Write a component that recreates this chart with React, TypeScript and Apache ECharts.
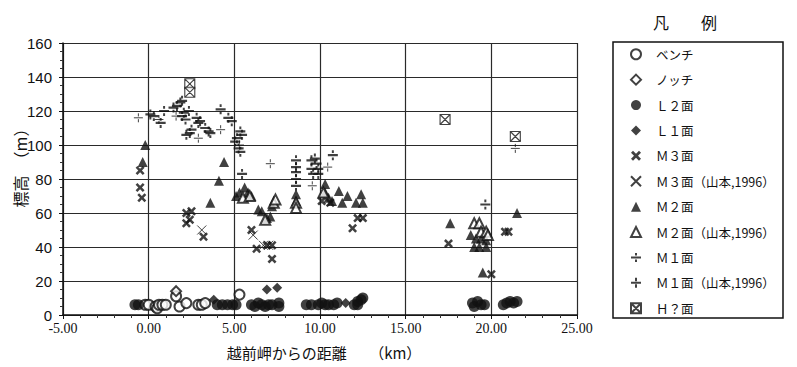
import React, { useEffect, useRef } from "react";
import * as echarts from "echarts";

// ---- data (distance km, elevation m) ----
const benchPts: number[][] = [
  [-0.2, 6], [0.0, 6], [0.4, 5], [0.5, 4], [0.6, 6], [0.8, 6], [1.0, 6],
  [1.6, 11], [1.8, 5], [2.2, 7], [2.9, 6], [3.1, 6], [3.3, 7], [5.3, 12],
];
const notchPts: number[][] = [[1.6, 14]];
const l2Pts: number[][] = [
  [-0.8, 6], [-0.6, 6], [4.0, 6], [4.3, 6], [4.6, 6], [4.9, 6], [5.1, 6],
  [6.0, 6], [6.2, 5], [6.4, 7], [6.6, 6], [6.8, 5], [7.0, 6], [7.2, 6], [7.6, 7], [7.6, 5],
  [9.2, 6], [9.5, 6], [9.9, 6], [10.1, 7], [10.3, 6], [10.5, 6], [10.8, 6], [11.0, 7],
  [12.0, 6], [12.2, 8], [12.4, 9], [12.5, 10], [12.2, 6],
  [18.9, 7], [19.0, 5], [19.2, 8], [19.4, 6], [19.6, 6],
  [20.7, 6], [20.9, 7], [21.1, 8], [21.3, 7], [21.5, 8],
];
const l1Pts: number[][] = [[3.8, 9], [6.9, 15], [7.5, 16], [11.5, 7]];
const m3Pts: number[][] = [
  [-0.5, 85], [-0.5, 75], [-0.4, 69], [2.2, 60], [2.5, 61], [2.2, 54], [2.4, 56], [3.2, 46],
  [6.0, 50], [6.3, 39], [6.9, 41], [7.2, 41], [7.2, 33], [10.1, 67], [10.6, 66],
  [11.9, 51], [12.2, 57], [12.5, 57], [17.5, 42], [20.0, 24], [20.8, 49], [21.0, 49],
];
const m3YamaPts: number[][] = [[3.1, 50], [6.1, 47], [6.7, 41], [7.0, 41]];
const m2Pts: number[][] = [
  [-0.2, 100], [-0.35, 90], [3.6, 66], [4.1, 79], [4.4, 90], [5.1, 70], [5.3, 72], [5.6, 75],
  [5.8, 72], [6.0, 70], [6.4, 62], [6.6, 61], [6.9, 57], [7.1, 58], [7.2, 64], [8.6, 71],
  [8.6, 67], [10.3, 77], [10.3, 72], [10.5, 69], [10.7, 67], [11.1, 73], [11.3, 66], [11.6, 70],
  [12.1, 66], [12.4, 71], [12.5, 66], [17.6, 54], [18.8, 47], [19.1, 45], [19.4, 45], [19.7, 44],
  [19.0, 40], [19.3, 40], [19.7, 40], [19.5, 25], [21.5, 60],
];
const m2YamaPts: number[][] = [
  [5.5, 69], [5.9, 70], [6.8, 56], [7.3, 66], [7.4, 68], [8.6, 66], [8.6, 63], [10.2, 72],
  [19.0, 54], [19.3, 54], [19.4, 49], [19.7, 49], [19.8, 47],
];
const m1Pts: number[][] = [
  [0.1, 118], [0.3, 117], [0.7, 113], [0.9, 120], [1.45, 122], [1.65, 123], [1.85, 125], [1.95, 126],
  [1.95, 117], [2.05, 119], [2.15, 115], [2.35, 120], [2.8, 116], [2.9, 113], [3.0, 114],
  [3.3, 110], [3.5, 108], [3.6, 107], [2.2, 106], [2.4, 107], [2.5, 109], [4.2, 121],
  [4.65, 116], [4.85, 114], [5.35, 108], [5.45, 106], [5.15, 104], [5.05, 102], [5.25, 98],
  [5.35, 96], [5.45, 83], [8.6, 91], [8.6, 87], [8.6, 84], [8.6, 80], [8.6, 76],
  [9.5, 91], [9.7, 92], [9.8, 89], [9.9, 86], [9.5, 86], [9.6, 83], [9.9, 83], [10.75, 94],
  [19.65, 65],
];
const m1YamaPts: number[][] = [
  [-0.6, 116], [0.6, 115], [4.2, 109], [2.9, 104], [1.6, 117], [7.1, 89], [9.55, 76],
  [10.45, 87], [21.4, 98], [5.3, 100],
];
const hPts: number[][] = [[2.4, 136], [2.4, 131], [17.3, 115], [21.4, 105]];

const seriesNames = [
  "ベンチ", "ノッチ", "Ｌ２面", "Ｌ１面", "Ｍ３面", "Ｍ３面（山本,1996）",
  "Ｍ２面", "Ｍ２面（山本,1996）", "Ｍ１面", "Ｍ１面（山本,1996）", "Ｈ？面",
];
const xTicks = { min: -5, max: 25, interval: 5 };
const yTicks = { min: 0, max: 160, interval: 20 };

const boldX = "path://M0,2L2,0L5,3L8,0L10,2L7,5L10,8L8,10L5,7L2,10L0,8L3,5Z";
const thinX = "path://M0,0L10,10M10,0L0,10";
const boldDiv = "path://M0,4L10,4L10,6L0,6Z M4,0.5L6,0.5L6,3L4,3Z M4,7L6,7L6,9.5L4,9.5Z";
const thinDiv = "path://M0,5L10,5M5,0L5,3.5M5,6.5L5,10";
const boxX = "path://M0,0L10,0L10,10L0,10Z M0,0L10,10M10,0L0,10";

export default function App() {
  const ref = useRef<HTMLDivElement>(null);
  useEffect(() => {
    document.body.style.margin = "0";
    const chart = echarts.init(ref.current!, null, { renderer: "svg" });
    const black = "#111";
    const mk = (name: string, data: number[][], symbol: string, size: number, style: any) => ({
      type: "scatter",
      name,
      data,
      symbol,
      symbolSize: size,
      itemStyle: style,
    });
    const filled = { color: black, borderWidth: 0 };
    const open = { color: black, borderColor: black, borderWidth: 1 };
    const stroked = { color: "#fff", borderColor: black, borderWidth: 1 };
    const stroked2 = { color: "#fff", borderColor: black, borderWidth: 1.1 };
    chart.setOption({
      animation: false,
      backgroundColor: "#fff",
      grid: { left: 63, top: 43, right: 220, bottom: 52, containLabel: false, outerBoundsMode: "none" },
      xAxis: {
        type: "value",
        ...xTicks,
        axisLine: { show: true, onZero: false, lineStyle: { color: black, width: 1.5 } },
        axisTick: { show: true, length: 4, lineStyle: { color: black } },
        minorTick: { show: true, splitNumber: 5, length: 3, lineStyle: { color: "#333" } },
        splitLine: { show: true, lineStyle: { color: "#2a2a2a", width: 1.2 } },
        axisLabel: {
          formatter: (v: number) => v.toFixed(2),
          fontFamily: "Liberation Serif",
          fontSize: 14,
          color: black,
          margin: 6,
        },
      },
      yAxis: {
        type: "value",
        ...yTicks,
        axisLine: { show: true, onZero: false, lineStyle: { color: black, width: 1.5 } },
        axisTick: { show: true, length: 4, lineStyle: { color: black } },
        minorTick: { show: true, splitNumber: 4, length: 3, lineStyle: { color: "#333" } },
        splitLine: { show: true, lineStyle: { color: "#2a2a2a", width: 1.2 } },
        axisLabel: { fontFamily: "Liberation Sans", fontSize: 15, color: black, margin: 11 },
      },
      legend: {
        orient: "vertical",
        left: 630,
        top: 48,
        padding: 0,
        itemWidth: 10,
        itemHeight: 10,
        itemGap: 12.9,
        data: seriesNames,
        textStyle: {
          fontFamily: "Noto Sans CJK JP",
          fontSize: 12.5,
          color: black,
          padding: [0, 0, 0, 10],
        },
      },
      graphic: [
        {
          type: "rect",
          shape: { x: 613, y: 42, width: 170, height: 276 },
          style: { fill: "none", stroke: black, lineWidth: 1.5 },
        },
        {
          type: "text",
          x: 685,
          y: 22,
          style: {
            text: "凡　　例",
            fontFamily: "Noto Sans CJK JP",
            fontSize: 16,
            fill: black,
            textAlign: "center",
            textVerticalAlign: "middle",
          },
        },
        {
          type: "text",
          x: 20,
          y: 164,
          rotation: Math.PI / 2,
          style: {
            text: "標高　（m）",
            fontFamily: "Noto Sans CJK JP",
            fontSize: 16,
            fill: black,
            textAlign: "center",
            textVerticalAlign: "middle",
          },
        },
        {
          type: "text",
          x: 324,
          y: 352,
          style: {
            text: "越前岬からの距離　　（km）",
            fontFamily: "Noto Sans CJK JP",
            fontSize: 15,
            fill: black,
            textAlign: "center",
            textVerticalAlign: "middle",
          },
        },
      ],
      series: [
        mk(seriesNames[0], benchPts, "emptyCircle", 10, open),
        mk(seriesNames[1], notchPts, "emptyDiamond", 10, open),
        mk(seriesNames[2], l2Pts, "circle", 11, filled),
        mk(seriesNames[3], l1Pts, "diamond", 10, filled),
        mk(seriesNames[4], m3Pts, boldX, 9, filled),
        mk(seriesNames[5], m3YamaPts, thinX, 9, stroked),
        mk(seriesNames[6], m2Pts, "triangle", 10, filled),
        mk(seriesNames[7], m2YamaPts, "emptyTriangle", 10, open),
        mk(seriesNames[8], m1Pts, boldDiv, 10, filled),
        mk(seriesNames[9], m1YamaPts, thinDiv, 9, stroked),
        mk(seriesNames[10], hPts, boxX, 10, stroked2),
      ],
    });
    return () => chart.dispose();
  }, []);
  return <div ref={ref} style={{ width: 797, height: 367 }} />;
}
